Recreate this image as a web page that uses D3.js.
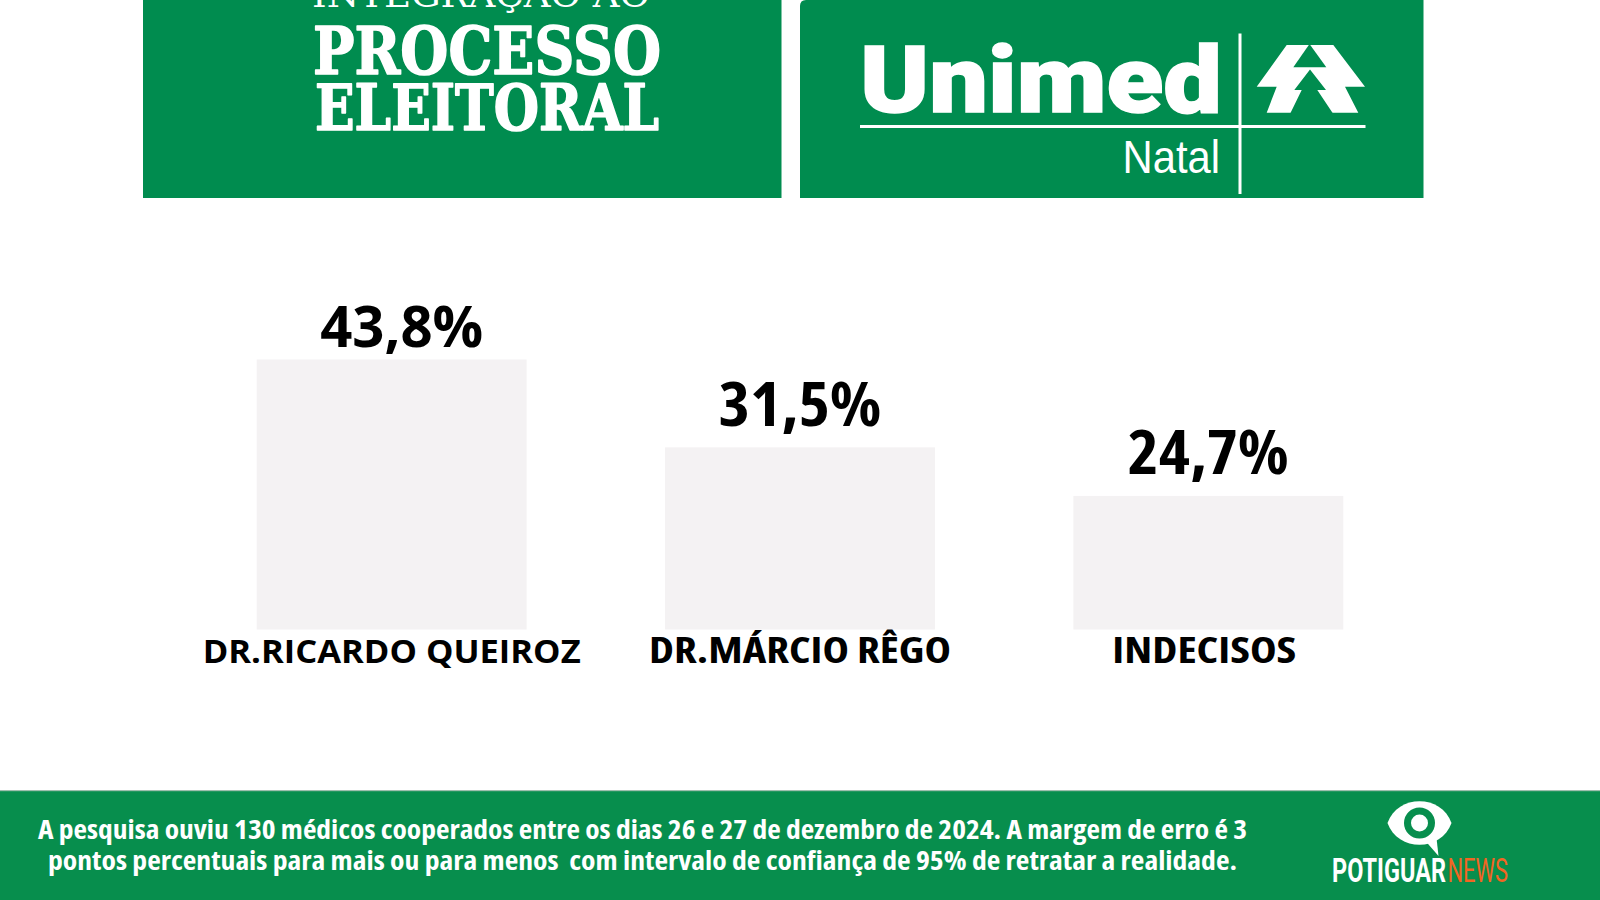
<!DOCTYPE html>
<html>
<head>
<meta charset="utf-8">
<script src="https://cdn.jsdelivr.net/npm/d3@7"></script>
<style>
  html, body { margin: 0; padding: 0; background: #ffffff; }
  svg { display: block; }
</style>
</head>
<body>
<svg id="chart" width="1600" height="900"></svg>
<script>
// ---------- DATA ----------
const categories = ["DR.RICARDO QUEIROZ", "DR.MÁRCIO RÊGO", "INDECISOS"];
const values = [43.8, 31.5, 24.7];
const valueLabels = ["43,8%", "31,5%", "24,7%"];
const footerLines = [
  "A pesquisa ouviu 130 médicos cooperados entre os dias 26 e 27 de dezembro de 2024. A margem de erro é 3",
  "pontos percentuais para mais ou para menos  com intervalo de confiança de 95% de retratar a realidade."
];
const headerTitle = ["INTEGRAÇÃO AO", "PROCESSO", "ELEITORAL"];

// ---------- LAYOUT / STYLE (not data) ----------
const GREEN = "#008C4F";
const FOOT_GREEN = "#078E4D";
const BAR = "#F4F2F3";
const catStyle = [
  { w: 378, stretch: "normal", size: 33, dx: 0 },
  { w: 302, stretch: "condensed", size: 35, dx: 0 },
  { w: 184, stretch: "condensed", size: 35, dx: -4 }
];
const valStyle = [
  { w: 163, stretch: "normal", size: 58, dx: 10, dy: -12.5 },
  { w: 163, stretch: "condensed", size: 60, dx: 0, dy: -21 },
  { w: 161, stretch: "condensed", size: 60, dx: 0, dy: -22 }
];

const svg = d3.select("#chart");
svg.append("rect").attr("width", 1600).attr("height", 900).attr("fill", "#fff");

// ---------- HEADER ----------
svg.append("rect").attr("x", 143).attr("y", 0).attr("width", 638.5).attr("height", 198).attr("fill", GREEN);
svg.append("path")
  .attr("d", "M800,6 Q800,0 806,0 L1423.5,0 L1423.5,198 L800,198 Z")
  .attr("fill", GREEN);

const ht = svg.append("g").attr("fill", "#fff").attr("font-family", "'DejaVu Serif', serif");
ht.append("text").attr("x", 312).attr("y", 7).attr("font-size", 34).attr("font-weight", 400)
  .attr("textLength", 338).attr("lengthAdjust", "spacingAndGlyphs").text(headerTitle[0]);
ht.append("text").attr("x", 313).attr("y", 73.5).attr("font-size", 66).attr("font-weight", 700)
  .attr("stroke", "#fff").attr("stroke-width", 1.6).attr("stroke-linejoin", "round")
  .attr("textLength", 348).attr("lengthAdjust", "spacingAndGlyphs").text(headerTitle[1]);
ht.append("text").attr("x", 315).attr("y", 129.5).attr("font-size", 63).attr("font-weight", 700)
  .attr("stroke", "#fff").attr("stroke-width", 1.6).attr("stroke-linejoin", "round")
  .attr("textLength", 344).attr("lengthAdjust", "spacingAndGlyphs").text(headerTitle[2]);

// Unimed logo
const ug = svg.append("g").attr("fill", "#fff");
ug.append("text").attr("x", 860).attr("y", 112).attr("font-family", "Roboto").attr("font-weight", 900)
  .attr("font-size", 93).attr("stroke", "#fff").attr("stroke-width", 1.5)
  .attr("textLength", 362).attr("lengthAdjust", "spacingAndGlyphs").text("Unimed");
ug.append("rect").attr("x", 860).attr("y", 125).attr("width", 505.5).attr("height", 3);
ug.append("rect").attr("x", 1238.5).attr("y", 33.5).attr("width", 3).attr("height", 160.5);
ug.append("text").attr("x", 1122.5).attr("y", 172.5).attr("font-family", "Liberation Sans").attr("font-weight", 400)
  .attr("font-size", 46).attr("textLength", 97.5).attr("lengthAdjust", "spacingAndGlyphs").text("Natal");
const sym = ug.append("g").attr("transform", "translate(1245,40)");
sym.append("polygon").attr("points", "41.7,5 88.3,5 120,46.7 100,46.7 113.3,72.7 21.7,72.7 31.7,46.7 11.7,46.7").attr("fill", "#fff");
sym.append("polygon").attr("points", "64.5,4 48.3,27.3 81.3,27.3").attr("fill", GREEN);
sym.append("polygon").attr("points", "65,29.6 49.3,50 56.7,50 45,74 88.3,74 72.3,50 81,50").attr("fill", GREEN);

// ---------- CHART ----------
const x = d3.scaleBand().domain(categories).range([187.5, 1412.5]).paddingInner(0.339).paddingOuter(0.1695);
const y = d3.scaleLinear().domain([6, 43.8]).range([629.5, 359.5]);

const data = categories.map((c, i) => ({ c, v: values[i], label: valueLabels[i], cs: catStyle[i], vs: valStyle[i] }));

svg.append("g").selectAll("rect").data(data).join("rect")
  .attr("x", d => x(d.c)).attr("y", d => y(d.v))
  .attr("width", x.bandwidth()).attr("height", d => y.range()[0] - y(d.v))
  .attr("fill", BAR);

svg.append("g").selectAll("text").data(data).join("text")
  .attr("x", d => x(d.c) + x.bandwidth() / 2 + d.vs.dx)
  .attr("y", d => y(d.v) + d.vs.dy)
  .attr("text-anchor", "middle")
  .attr("font-family", "Open Sans").attr("font-weight", 700)
  .attr("font-size", d => d.vs.size).attr("font-stretch", d => d.vs.stretch)
  .attr("textLength", d => d.vs.w).attr("lengthAdjust", "spacingAndGlyphs")
  .attr("fill", "#000")
  .text(d => d.label);

svg.append("g").selectAll("text").data(data).join("text")
  .attr("x", d => x(d.c) + x.bandwidth() / 2 + d.cs.dx)
  .attr("y", 662.5)
  .attr("text-anchor", "middle")
  .attr("font-family", "Open Sans").attr("font-weight", 700)
  .attr("font-size", d => d.cs.size).attr("font-stretch", d => d.cs.stretch)
  .attr("textLength", d => d.cs.w).attr("lengthAdjust", "spacingAndGlyphs")
  .attr("fill", "#000")
  .text(d => d.c);

// ---------- FOOTER ----------
svg.append("rect").attr("x", 0).attr("y", 791).attr("width", 1600).attr("height", 109).attr("fill", FOOT_GREEN);
svg.append("rect").attr("x", 0).attr("y", 790).attr("width", 1600).attr("height", 1.2).attr("fill", "#9fbfae");
const ft = svg.append("g").attr("fill", "#fff").attr("font-family", "Open Sans").attr("font-weight", 700)
  .attr("font-stretch", "condensed").attr("font-size", 26.5);
const footW = [1209, 1189];
const footX = [38, 48];
const footY = [839, 870];
footerLines.forEach((t, i) => {
  ft.append("text").attr("x", footX[i]).attr("y", footY[i])
    .attr("textLength", footW[i]).attr("lengthAdjust", "spacingAndGlyphs")
    .attr("xml:space", "preserve").style("white-space", "pre").text(t);
});

// Potiguar News logo
const pg = svg.append("g");
const cx = 1419.5, cy = 823;
pg.append("path")
  .attr("d", `M${cx + 6},${cy + 18} L${cx + 19},${cy + 33} L${cx + 17},${cy + 15} Z`)
  .attr("fill", "#fff");
pg.append("path")
  .attr("d", `M${cx - 32},${cy} C${cx - 22},${cy - 29} ${cx + 22},${cy - 29} ${cx + 32},${cy} C${cx + 22},${cy + 29} ${cx - 22},${cy + 29} ${cx - 32},${cy} Z`)
  .attr("fill", "#fff");
pg.append("circle").attr("cx", cx).attr("cy", cy).attr("r", 15.5).attr("fill", FOOT_GREEN);
pg.append("circle").attr("cx", cx).attr("cy", cy).attr("r", 8.5).attr("fill", "#fff");
pg.append("text").attr("x", 1332).attr("y", 882).attr("font-family", "Roboto").attr("font-weight", 700)
  .attr("font-size", 33).attr("textLength", 114).attr("lengthAdjust", "spacingAndGlyphs")
  .attr("fill", "#fff").text("POTIGUAR");
pg.append("text").attr("x", 1447.5).attr("y", 882).attr("font-family", "Roboto").attr("font-weight", 400)
  .attr("font-size", 33).attr("textLength", 60.5).attr("lengthAdjust", "spacingAndGlyphs")
  .attr("fill", "#F26522").text("NEWS");
</script>
</body>
</html>
